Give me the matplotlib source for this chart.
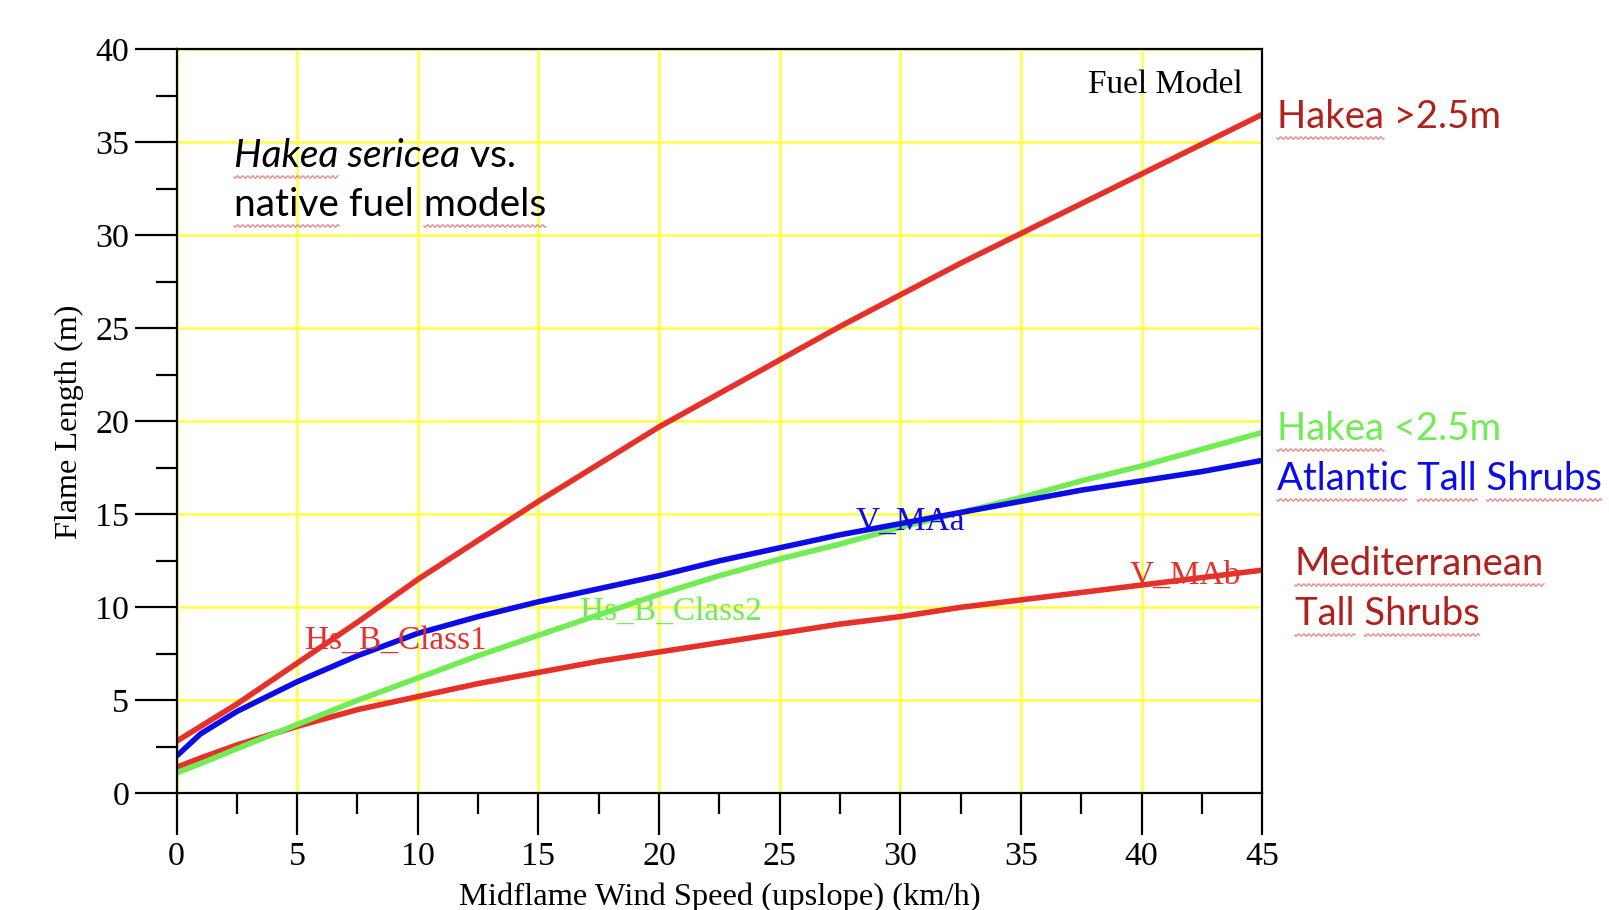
import matplotlib
matplotlib.use("Agg")
import numpy as np
import matplotlib.pyplot as plt
from matplotlib.lines import Line2D
from matplotlib.ticker import MultipleLocator

# wind speed (km/h) and flame lengths (m)
wind = [0, 1, 2.5, 5, 7.5, 10, 12.5, 15, 17.5, 20, 22.5, 25, 27.5, 30, 32.5, 35, 37.5, 40, 42.5, 45]
hs_class1 = [2.8, 3.6, 4.8, 7.0, 9.2, 11.5, 13.6, 15.7, 17.7, 19.7, 21.5, 23.3, 25.1, 26.8, 28.5, 30.1, 31.7, 33.3, 34.9, 36.5]
v_maa = [2.0, 3.2, 4.4, 6.0, 7.4, 8.6, 9.5, 10.3, 11.0, 11.7, 12.5, 13.2, 13.9, 14.5, 15.1, 15.7, 16.3, 16.8, 17.3, 17.9]
hs_class2 = [1.1, 1.6, 2.4, 3.7, 5.0, 6.2, 7.4, 8.5, 9.6, 10.7, 11.7, 12.6, 13.4, 14.3, 15.1, 15.9, 16.8, 17.6, 18.5, 19.4]
v_mab = [1.4, 1.9, 2.6, 3.6, 4.5, 5.2, 5.9, 6.5, 7.1, 7.6, 8.1, 8.6, 9.1, 9.5, 10.0, 10.4, 10.8, 11.2, 11.6, 12.0]

RED = "#e8302a"
BLUE = "#0c0ce8"
GREEN = "#72ec55"
DARKRED = "#b0201c"
SQUIG = "#ec8080"
SERIF = "Liberation Serif"
SANS = ["Lato", "DejaVu Sans"]
W, H = 1609, 910

fig = plt.figure(figsize=(16.09, 9.10), dpi=100)
ax = fig.add_axes([0.1097, 0.1282, 0.6748, 0.8176])

ax.plot(wind, hs_class1, color=RED, lw=4, solid_capstyle="butt")
ax.plot(wind, v_mab, color=RED, lw=4, solid_capstyle="butt")
ax.plot(wind, hs_class2, color=GREEN, lw=4, solid_capstyle="butt")
ax.plot(wind, v_maa, color=BLUE, lw=4, solid_capstyle="butt")

ax.set_xlim(0, 45)
ax.set_ylim(0, 40)
ax.xaxis.set_major_locator(MultipleLocator(5))
ax.xaxis.set_minor_locator(MultipleLocator(2.5))
ax.yaxis.set_major_locator(MultipleLocator(5))
ax.yaxis.set_minor_locator(MultipleLocator(2.5))
ax.grid(True, which="major", color="#ffff40", lw=1.8, zorder=0)
ax.set_axisbelow(True)

for sp in ax.spines.values():
    sp.set_color("black")
    sp.set_linewidth(1.6)

ax.tick_params(which="major", direction="out", length=30, width=1.6, labelsize=24.5, color="black")
ax.tick_params(which="minor", direction="out", length=15, width=1.6, color="black")
ax.tick_params(axis="y", which="major", pad=4)
ax.tick_params(axis="x", which="major", pad=5)
for lab in ax.get_xticklabels() + ax.get_yticklabels():
    lab.set_fontfamily(SERIF)

ax.set_xlabel("Midflame Wind Speed (upslope) (km/h)", fontfamily=SERIF, fontsize=23.4, labelpad=7)
ax.set_ylabel("Flame Length (m)", fontfamily=SERIF, fontsize=23.2, labelpad=8)

# curve labels
ax.text(9.1, 8.2, "Hs_B_Class1", color=RED, fontfamily=SERIF, fontsize=24, ha="center", va="center")
ax.text(20.5, 9.8, "Hs_B_Class2", color=GREEN, fontfamily=SERIF, fontsize=24, ha="center", va="center")
ax.text(30.4, 14.6, "V_MAa", color=BLUE, fontfamily=SERIF, fontsize=24, ha="center", va="center")
ax.text(41.8, 11.7, "V_MAb", color=RED, fontfamily=SERIF, fontsize=24, ha="center", va="center")
ax.text(44.2, 38.1, "Fuel Model", color="black", fontfamily=SERIF, fontsize=24, ha="right", va="center")

renderer = fig.canvas.get_renderer()


def text_width(s, **kw):
    t = fig.text(0, 0, s, **kw)
    w = t.get_window_extent(renderer).width
    t.remove()
    return w


def squiggle(x0_px, y_px, width):
    # wavy spell-check underline, pixel coords from top-left
    xs = np.arange(x0_px, x0_px + width + 0.5, 1.0)
    ys = y_px + 1.3 * np.sin((xs - x0_px) * 2 * np.pi / 5.0)
    fig.add_artist(Line2D(xs / W, 1 - ys / H, transform=fig.transFigure,
                          color=SQUIG, lw=0.9))


def label(x_px, base_px, s, color, under=(), italic_upto=0, size=27.5):
    # put text with baseline at base_px, optionally an italic prefix
    kw_n = dict(fontfamily=SANS, fontsize=size, color=color)
    kw_i = dict(kw_n, style="italic")
    x = x_px
    if italic_upto:
        fig.text(x / W, 1 - base_px / H, s[:italic_upto], va="baseline", ha="left", **kw_i)
        x += text_width(s[:italic_upto], **kw_i)
        rest = s[italic_upto:]
    else:
        rest = s
    fig.text(x / W, 1 - base_px / H, rest, va="baseline", ha="left", **kw_n)
    for word in under:
        i = s.index(word)
        if i + len(word) <= italic_upto:
            kw = kw_i
        else:
            kw = kw_n
        end = text_width(s[:i + len(word)], **kw)
        ww = text_width(word, **kw)
        squiggle(x_px + end - ww, base_px + 10, ww)


label(234, 167, "Hakea sericea vs.", "black", under=("Hakea",), italic_upto=13, size=28)
label(234, 216, "native fuel models", "black", under=("native", "models"), size=28)

label(1277, 128, "Hakea >2.5m", DARKRED, under=("Hakea",))
label(1277, 440, "Hakea <2.5m", GREEN, under=("Hakea",))
label(1277, 490, "Atlantic Tall Shrubs", BLUE, under=("Atlantic", "Tall", "Shrubs"))
label(1295, 575, "Mediterranean", DARKRED, under=("Mediterranean",))
label(1295, 625, "Tall Shrubs", DARKRED, under=("Tall", "Shrubs"))

fig.savefig("out.png", dpi=100)
